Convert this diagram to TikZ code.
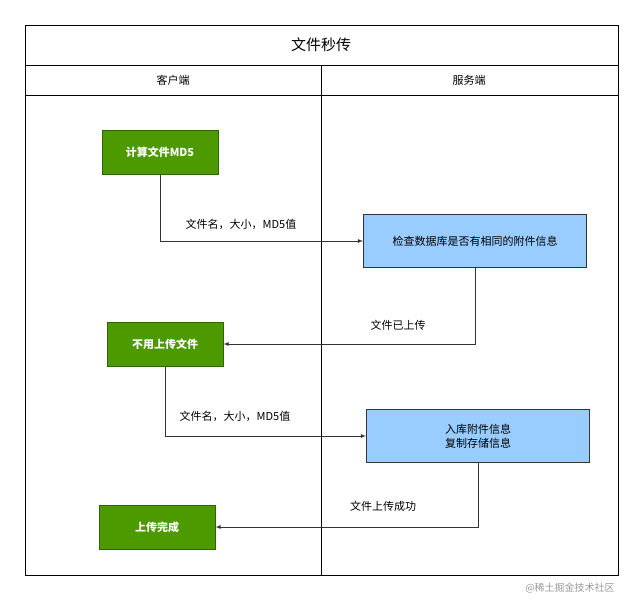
\documentclass[tikz,border=0pt]{standalone}
\usepackage{fontspec}
\setmainfont{Noto Sans CJK SC}
\usetikzlibrary{positioning}
\definecolor{stepgreen}{HTML}{4D9900}
\definecolor{stepedge}{HTML}{2D6600}
\definecolor{checkblue}{HTML}{99CCFF}
\begin{document}
\begin{tikzpicture}[x=1pt,y=-1pt,>=latex,line width=1pt]
  \tikzstyle{greenbox}=[draw=stepedge,fill=stepgreen,text=white,font=\fontsize{11}{13}\selectfont\bfseries,minimum width=116pt,minimum height=44pt,inner sep=0pt]
  \tikzstyle{bluebox}=[draw=black!80,fill=checkblue,font=\fontsize{11}{14}\selectfont,minimum width=223pt,minimum height=53pt,inner sep=0pt,align=center]
  \tikzstyle{flow}=[->,draw=black!80,thick]
  \tikzstyle{lbl}=[font=\fontsize{11}{13}\selectfont]
  \useasboundingbox (0,0) rectangle (643,600);
  % frame
  \draw (25,25) rectangle (618,575);
  \draw (25,65) -- (618,65);
  \draw (25,95) -- (618,95);
  \draw (321,65) -- (321,575);
  \node[font=\fontsize{15}{17}\selectfont] (title) at (321,45) {文件秒传};
  \node[lbl] (client) at (173,80) {客户端};
  \node[lbl] (server) at (469,80) {服务端};
  % steps
  \node[greenbox] (md5) at (160,152) {计算文件MD5};
  \node[bluebox] (check) at (475,241) {检查数据库是否有相同的附件信息};
  \node[greenbox] (skip) at (165,344) {不用上传文件};
  \node[bluebox] (store) at (478,436) {入库附件信息\\复制存储信息};
  \node[greenbox] (done) at (157,527) {上传完成};
  % connectors
  \draw[flow] (md5.south) |- (check.west);
  \draw[flow] (check.south) |- (skip.east);
  \draw[flow] (skip.south) |- (store.west);
  \draw[flow] (store.south) |- (done.east);
  \node[lbl] (l1) at (241,224) {文件名，大小，MD5值};
  \node[lbl] (l2) at (398,325) {文件已上传};
  \node[lbl] (l3) at (235,416) {文件名，大小，MD5值};
  \node[lbl] (l4) at (383,506) {文件上传成功};
  \node[font=\fontsize{10}{12}\selectfont,text=black!40] (mark) at (570,588) {@稀土掘金技术社区};
\end{tikzpicture}
\end{document}
